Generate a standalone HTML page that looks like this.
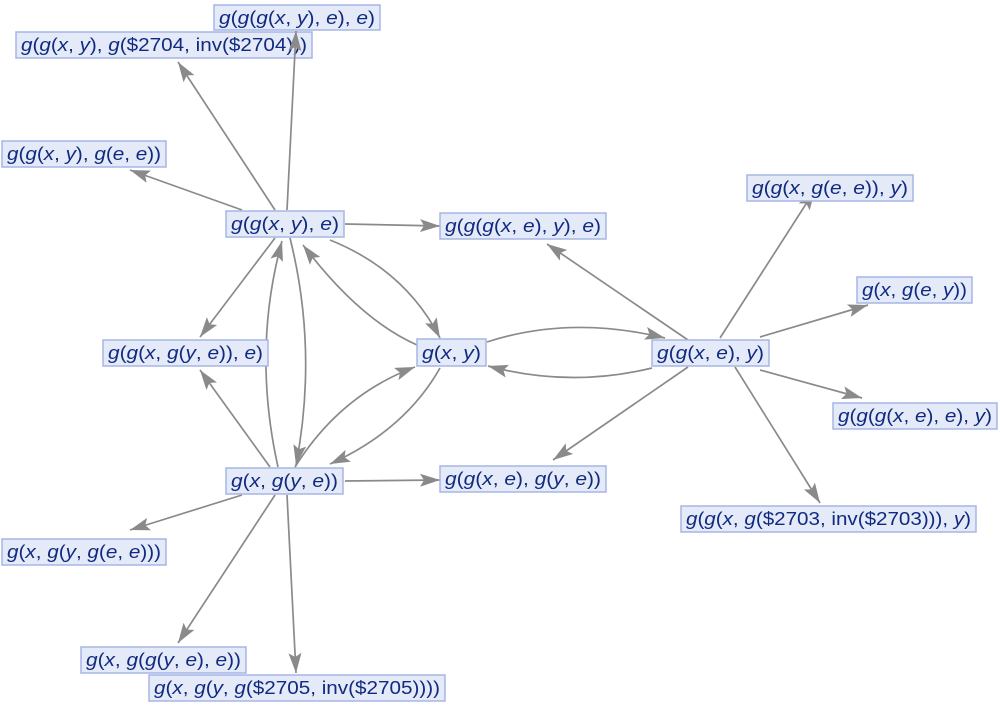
<!DOCTYPE html>
<html><head><meta charset="utf-8"><style>
html,body{margin:0;padding:0;background:#fff;}
svg{display:block;}
text{font-family:"Liberation Sans",sans-serif;font-size:18.5px;fill:#102a80;}
.i{font-style:italic;}
rect{fill:#e5eaf8;stroke:#a5b6e6;stroke-width:1.5;}
.e{stroke:#8a8a8a;stroke-width:1.7;fill:none;marker-end:url(#a);}
</style></head><body>
<svg width="1000" height="706" viewBox="0 0 1000 706">
<defs><marker id="a" markerUnits="userSpaceOnUse" markerWidth="22" markerHeight="14" refX="20" refY="6.5" orient="auto"><path d="M0,0 L20,6.5 L0,13 L4,6.5 Z" fill="#8a8a8a"/></marker></defs>
<!-- edges -->
<path class="e" d="M275,210 L178,62"/>
<path class="e" d="M242,210 L130,170"/>
<path class="e" d="M345,224 L440,226"/>
<path class="e" d="M275,238 L200,337"/>
<path class="e" d="M330,240 Q405,270 440,338"/>
<path class="e" d="M417,345 Q360,320 303,245"/>
<path class="e" d="M290,238 Q318,350 296,465"/>
<path class="e" d="M278,467 Q252,350 282,241"/>
<path class="e" d="M270,467 L200,370"/>
<path class="e" d="M295,467 Q340,395 415,367"/>
<path class="e" d="M440,368 Q405,430 330,464"/>
<path class="e" d="M345,481 L440,480"/>
<path class="e" d="M242,495 L130,530"/>
<path class="e" d="M275,495 L178,643"/>
<path class="e" d="M287,495 L296,673"/>
<path class="e" d="M487,342 Q570,315 665,338"/>
<path class="e" d="M652,368 Q570,388 488,366"/>
<path class="e" d="M688,340 L547,244"/>
<path class="e" d="M720,338 L815,190"/>
<path class="e" d="M760,337 L868,305"/>
<path class="e" d="M760,370 L862,398"/>
<path class="e" d="M688,367 L553,460"/>
<path class="e" d="M735,367 L820,503"/>
<!-- nodes -->
<rect x="214" y="5" width="166" height="25"/>
<text x="219" y="24" textLength="156" lengthAdjust="spacingAndGlyphs"><tspan class="i">g</tspan>(<tspan class="i">g</tspan>(<tspan class="i">g</tspan>(<tspan class="i">x</tspan>, <tspan class="i">y</tspan>), <tspan class="i">e</tspan>), <tspan class="i">e</tspan>)</text>
<rect x="16" y="32" width="296" height="26"/>
<text x="21" y="51" textLength="286" lengthAdjust="spacingAndGlyphs"><tspan class="i">g</tspan>(<tspan class="i">g</tspan>(<tspan class="i">x</tspan>, <tspan class="i">y</tspan>), <tspan class="i">g</tspan>($2704, inv($2704)))</text>
<path class="e" d="M287,210 L296,31"/>
<rect x="2" y="141" width="164" height="26"/>
<text x="7" y="160" textLength="154" lengthAdjust="spacingAndGlyphs"><tspan class="i">g</tspan>(<tspan class="i">g</tspan>(<tspan class="i">x</tspan>, <tspan class="i">y</tspan>), <tspan class="i">g</tspan>(<tspan class="i">e</tspan>, <tspan class="i">e</tspan>))</text>
<rect x="226" y="211" width="118" height="26"/>
<text x="231" y="230" textLength="108" lengthAdjust="spacingAndGlyphs"><tspan class="i">g</tspan>(<tspan class="i">g</tspan>(<tspan class="i">x</tspan>, <tspan class="i">y</tspan>), <tspan class="i">e</tspan>)</text>
<rect x="440" y="213" width="166" height="26"/>
<text x="445" y="232" textLength="156" lengthAdjust="spacingAndGlyphs"><tspan class="i">g</tspan>(<tspan class="i">g</tspan>(<tspan class="i">g</tspan>(<tspan class="i">x</tspan>, <tspan class="i">e</tspan>), <tspan class="i">y</tspan>), <tspan class="i">e</tspan>)</text>
<rect x="747" y="175" width="166" height="26"/>
<text x="752" y="194" textLength="156" lengthAdjust="spacingAndGlyphs"><tspan class="i">g</tspan>(<tspan class="i">g</tspan>(<tspan class="i">x</tspan>, <tspan class="i">g</tspan>(<tspan class="i">e</tspan>, <tspan class="i">e</tspan>)), <tspan class="i">y</tspan>)</text>
<rect x="857" y="277" width="115" height="26"/>
<text x="862" y="296" textLength="105" lengthAdjust="spacingAndGlyphs"><tspan class="i">g</tspan>(<tspan class="i">x</tspan>, <tspan class="i">g</tspan>(<tspan class="i">e</tspan>, <tspan class="i">y</tspan>))</text>
<rect x="103" y="340" width="165" height="26"/>
<text x="108" y="359" textLength="155" lengthAdjust="spacingAndGlyphs"><tspan class="i">g</tspan>(<tspan class="i">g</tspan>(<tspan class="i">x</tspan>, <tspan class="i">g</tspan>(<tspan class="i">y</tspan>, <tspan class="i">e</tspan>)), <tspan class="i">e</tspan>)</text>
<rect x="417" y="339" width="69" height="27"/>
<text x="422" y="359" textLength="59" lengthAdjust="spacingAndGlyphs"><tspan class="i">g</tspan>(<tspan class="i">x</tspan>, <tspan class="i">y</tspan>)</text>
<rect x="652" y="340" width="117" height="26"/>
<text x="657" y="359" textLength="107" lengthAdjust="spacingAndGlyphs"><tspan class="i">g</tspan>(<tspan class="i">g</tspan>(<tspan class="i">x</tspan>, <tspan class="i">e</tspan>), <tspan class="i">y</tspan>)</text>
<rect x="833" y="403" width="164" height="26"/>
<text x="838" y="422" textLength="154" lengthAdjust="spacingAndGlyphs"><tspan class="i">g</tspan>(<tspan class="i">g</tspan>(<tspan class="i">g</tspan>(<tspan class="i">x</tspan>, <tspan class="i">e</tspan>), <tspan class="i">e</tspan>), <tspan class="i">y</tspan>)</text>
<rect x="226" y="468" width="117" height="26"/>
<text x="231" y="487" textLength="107" lengthAdjust="spacingAndGlyphs"><tspan class="i">g</tspan>(<tspan class="i">x</tspan>, <tspan class="i">g</tspan>(<tspan class="i">y</tspan>, <tspan class="i">e</tspan>))</text>
<rect x="440" y="466" width="166" height="26"/>
<text x="445" y="485" textLength="156" lengthAdjust="spacingAndGlyphs"><tspan class="i">g</tspan>(<tspan class="i">g</tspan>(<tspan class="i">x</tspan>, <tspan class="i">e</tspan>), <tspan class="i">g</tspan>(<tspan class="i">y</tspan>, <tspan class="i">e</tspan>))</text>
<rect x="681" y="506" width="295" height="26"/>
<text x="686" y="525" textLength="285" lengthAdjust="spacingAndGlyphs"><tspan class="i">g</tspan>(<tspan class="i">g</tspan>(<tspan class="i">x</tspan>, <tspan class="i">g</tspan>($2703, inv($2703))), <tspan class="i">y</tspan>)</text>
<rect x="2" y="539" width="164" height="26"/>
<text x="7" y="558" textLength="154" lengthAdjust="spacingAndGlyphs"><tspan class="i">g</tspan>(<tspan class="i">x</tspan>, <tspan class="i">g</tspan>(<tspan class="i">y</tspan>, <tspan class="i">g</tspan>(<tspan class="i">e</tspan>, <tspan class="i">e</tspan>)))</text>
<rect x="81" y="647" width="165" height="26"/>
<text x="86" y="666" textLength="155" lengthAdjust="spacingAndGlyphs"><tspan class="i">g</tspan>(<tspan class="i">x</tspan>, <tspan class="i">g</tspan>(<tspan class="i">g</tspan>(<tspan class="i">y</tspan>, <tspan class="i">e</tspan>), <tspan class="i">e</tspan>))</text>
<rect x="149" y="675" width="296" height="26"/>
<text x="154" y="694" textLength="286" lengthAdjust="spacingAndGlyphs"><tspan class="i">g</tspan>(<tspan class="i">x</tspan>, <tspan class="i">g</tspan>(<tspan class="i">y</tspan>, <tspan class="i">g</tspan>($2705, inv($2705))))</text>
</svg>
</body></html>
